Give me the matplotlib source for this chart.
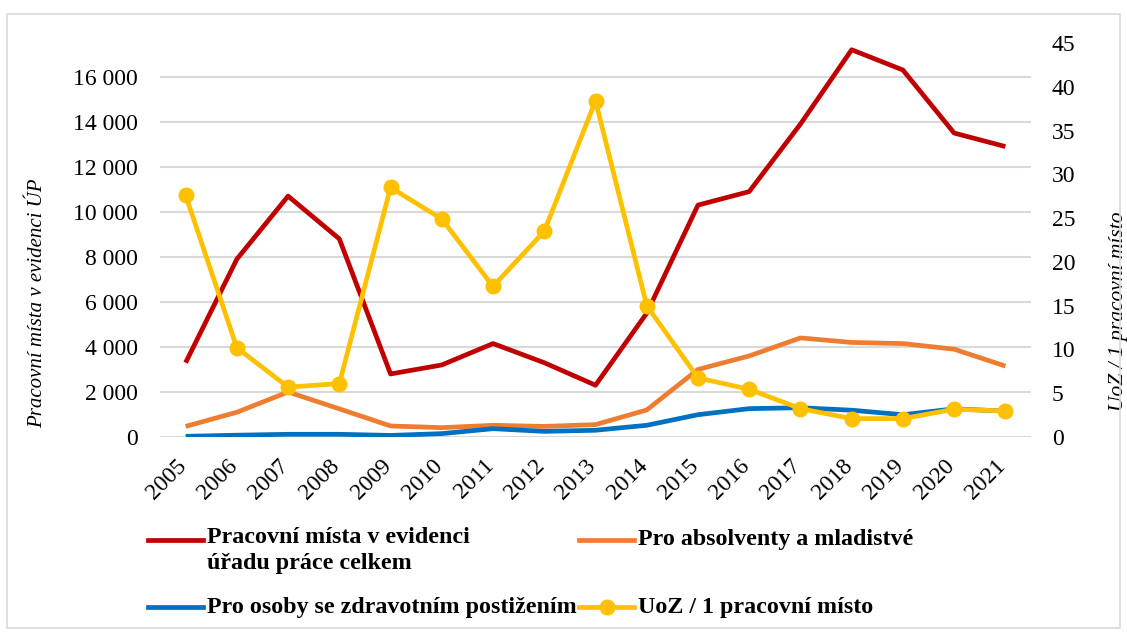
import matplotlib
matplotlib.use("Agg")
import matplotlib.pyplot as plt
import matplotlib.transforms as mtransforms
from matplotlib.lines import Line2D
from matplotlib.patches import Rectangle
from matplotlib.ticker import FuncFormatter, MultipleLocator

years = [str(y) for y in range(2005, 2022)]
celkem = [3300, 7900, 10700, 8800, 2800, 3200, 4150, 3300, 2300, 5500,
          10300, 10900, 13900, 17200, 16300, 13500, 12900]
absolventi = [470, 1100, 2000, 1250, 490, 415, 520, 470, 550, 1200,
              3000, 3600, 4400, 4200, 4150, 3900, 3150]
ozp = [30, 80, 120, 120, 70, 150, 370, 250, 300, 520,
       990, 1260, 1300, 1190, 990, 1250, 1150]
uoz = [27.6, 10.2, 5.7, 6.1, 28.5, 24.9, 17.2, 23.5, 38.4, 15.0,
       6.75, 5.45, 3.24, 2.1, 2.1, 3.17, 2.97]

labels = ["Pracovní místa v evidenci\núřadu práce celkem",
          "Pro absolventy a mladistvé",
          "Pro osoby se zdravotním postižením",
          "UoZ / 1 pracovní místo"]
colors = ["#C00000", "#ED7D31", "#0070C0", "#FFC000"]

plt.rcParams['font.family'] = ['Liberation Serif', 'DejaVu Serif']

W, H = 1127, 635
fig = plt.figure(figsize=(W / 100, H / 100), dpi=100)
fig.patch.set_facecolor("white")

# chart frame
fig.add_artist(Rectangle((7 / W, 1 - 628 / H), (1120 - 7) / W, (628 - 14) / H,
                         transform=fig.transFigure, fill=False,
                         edgecolor="#D9D9D9", linewidth=1.2))

left, right, top, bottom = 160, 1031, 43, 437
ax = fig.add_axes([left / W, 1 - bottom / H, (right - left) / W, (bottom - top) / H])
ax2 = ax.twinx()

x = list(range(len(years)))
lw = 3.4
ax.plot(x, celkem, color=colors[0], lw=lw, solid_capstyle="butt", zorder=3)
ax.plot(x, absolventi, color=colors[1], lw=lw, solid_capstyle="butt", zorder=3)
ax.plot(x, ozp, color=colors[2], lw=lw, solid_capstyle="butt", zorder=3)
ax2.plot(x, uoz, color=colors[3], lw=lw, marker="o", markersize=10.5,
         solid_capstyle="butt", zorder=4)

ax.set_xlim(-0.5, len(years) - 0.5)
ax.set_ylim(0, 17500)
ax2.set_ylim(0, 45)
ax.yaxis.set_major_locator(MultipleLocator(2000))
ax2.yaxis.set_major_locator(MultipleLocator(5))
ax.yaxis.set_major_formatter(FuncFormatter(lambda v, p: f"{int(v):,}".replace(",", " ")))
ax.grid(axis="y", color="#D9D9D9", linewidth=1.5)
ax.set_axisbelow(True)

tick_fs = 17
for a in (ax, ax2):
    for s in a.spines.values():
        s.set_visible(False)
    a.tick_params(length=0, labelsize=tick_fs, colors="black")

ax.set_xticks(x)
ax.set_xticklabels(years, rotation=45, ha="right", rotation_mode="anchor", fontsize=tick_fs)
ax.tick_params(axis="x", pad=13)
shift = mtransforms.ScaledTranslation(-10 / 100, 0, fig.dpi_scale_trans)
for lab in ax.get_xticklabels():
    lab.set_transform(lab.get_transform() + shift)
ax.tick_params(axis="y", pad=16)
ax2.tick_params(axis="y", pad=15)

ax.set_ylabel("Pracovní místa v evidenci ÚP", fontsize=15, style="italic")
ax.yaxis.set_label_coords((47 - left) / (right - left), (bottom - 303) / (bottom - top))
ax2.set_ylabel("UoZ / 1 pracovní místo", fontsize=15.5, style="italic")
ax2.yaxis.set_label_coords((1109 - left) / (right - left), (bottom - 311) / (bottom - top))

# legend (manual, row-aligned)
leg_fs = 17.3
def leg_item(xh, yc, color, text, marker=False):
    fig.add_artist(Line2D([xh / W, (xh + 55) / W], [1 - yc / H, 1 - yc / H],
                          transform=fig.transFigure, color=color, lw=lw))
    if marker:
        fig.add_artist(Line2D([(xh + 27.5) / W], [1 - yc / H], transform=fig.transFigure,
                              color=color, marker="o", markersize=10.5, lw=0))
    t = fig.text((xh + 59) / W, 1 - yc / H, text, fontsize=leg_fs, fontweight="bold",
                 ha="left", va="center", linespacing=1.3)
    return t

t = leg_item(148, 540, colors[0], labels[0])
t.set_va("top")
t.set_y(1 - 527 / H)
leg_item(579, 540, colors[1], labels[1])
leg_item(148, 607, colors[2], labels[2])
leg_item(579, 607, colors[3], labels[3], marker=True)

fig.savefig("out.png", dpi=100, facecolor="white")
